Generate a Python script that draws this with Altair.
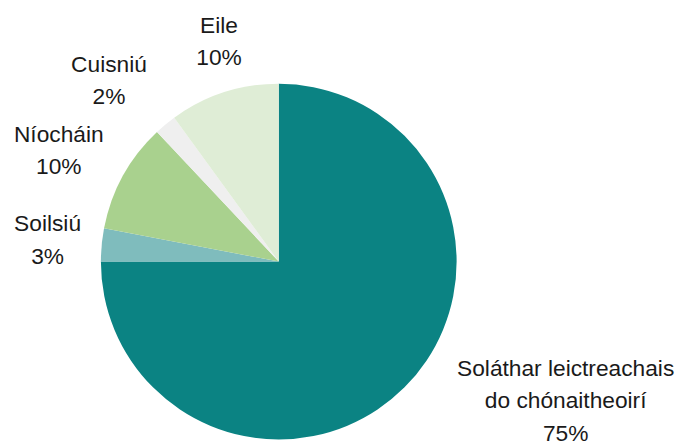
import altair as alt
import pandas as pd

# Data
categories = ["Soláthar leictreachais\ndo chónaitheoirí", "Soilsiú", "Níocháin", "Cuisniú", "Eile"]
shares = [75, 3, 10, 2, 10]
colors = ["#0B8383", "#7FBCBD", "#A9D18E", "#EFEFEF", "#DFEDD6"]

# Label layout (angle tweak in % of circle relative to slice middle, radius in px)
label_tweak = [-6.8, 1.06, 0.33, -0.33, 1.05]
label_radius = [310, 237, 257, 263, 246]

cum = 0
mids = []
for s in shares:
    mids.append(cum + s / 2)
    cum += s

df = pd.DataFrame({
    "cat": categories,
    "share": shares,
    "order": list(range(len(shares))),
    "label": [f"{c}\n{s}%" for c, s in zip(categories, shares)],
    "label_pos": [m + t for m, t in zip(mids, label_tweak)],
    "label_r": label_radius,
})

cx, cy, r = 274, 254, 180
theta_scale = alt.Scale(domain=[0, 100], range=[0, 6.283185307179586])

arcs = alt.Chart(df).mark_arc(radius=r).encode(
    theta=alt.Theta("share:Q", stack=True, scale=theta_scale),
    color=alt.Color("cat:N", scale=alt.Scale(domain=categories, range=colors), legend=None),
    order=alt.Order("order:Q"),
    x=alt.value(cx),
    y=alt.value(cy),
)

labels = alt.Chart(df).mark_text(
    font="Liberation Sans", fontSize=23, color="#1A1A1A",
    lineBreak="\n", lineHeight=33, align="center", baseline="middle",
).encode(
    theta=alt.Theta("label_pos:Q", stack=False, scale=theta_scale),
    radius=alt.Radius("label_r:Q", scale=None),
    text="label:N",
    x=alt.value(cx),
    y=alt.value(cy),
)

chart = alt.layer(arcs, labels).properties(
    width=676, height=439,
    autosize=alt.AutoSizeParams(type="none"),
    padding=0,
).configure_view(stroke=None)

chart.save("out.html", embed_options={"renderer": "svg", "actions": False})
